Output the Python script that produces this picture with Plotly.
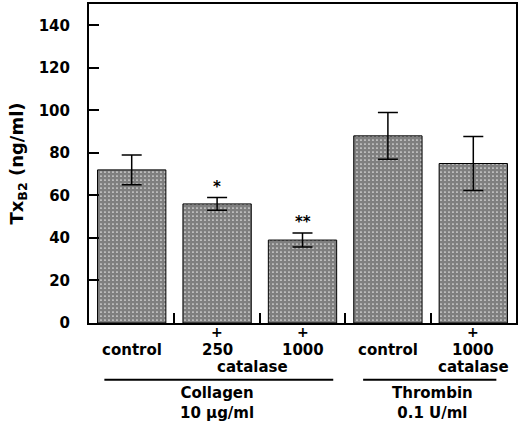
import plotly.graph_objects as go

# bar values (TxB2, ng/ml)
groups = ["control", "250", "1000", "control", "1000"]
means = [72, 56, 39, 88, 75]
errs = [7, 3, 3.3, 11, 12.7]
stars = ["", "*", "**", "", ""]
plus_marks = ["", "+", "+", "", "+"]
ytick_vals = [0, 20, 40, 60, 80, 100, 120, 140]

FONT = "DejaVu Sans"
xs = list(range(len(groups)))

fig = go.Figure()
fig.add_trace(go.Bar(
    x=xs, y=means, width=0.8,
    marker=dict(color="white", line=dict(color="black", width=1),
                pattern=dict(shape=".", fgcolor="black", bgcolor="white",
                             size=4, solidity=0.82)),
    error_y=dict(type="data", array=errs, visible=True,
                 color="black", thickness=1.5, width=10),
))

ann = []
for i in xs:
    if plus_marks[i]:
        ann.append(dict(x=i, y=-0.028, xref="x", yref="paper", text=plus_marks[i],
                        showarrow=False, yanchor="middle", font=dict(size=14)))
    ann.append(dict(x=i, y=-0.084, xref="x", yref="paper", text=groups[i],
                    showarrow=False, yanchor="middle"))
    if stars[i]:
        ann.append(dict(x=i, y=means[i] + errs[i] + 5, xref="x", yref="y",
                        text=stars[i], showarrow=False))
ann.append(dict(x=1.42, y=-0.137, xref="x", yref="paper", text="catalase",
                showarrow=False, yanchor="middle"))
ann.append(dict(x=4, y=-0.137, xref="x", yref="paper", text="catalase",
                showarrow=False, yanchor="middle"))
ann.append(dict(x=1, y=-0.185, xref="x", yref="paper", text="Collagen<br>10 \u03bcg/ml",
                showarrow=False, yanchor="top"))
ann.append(dict(x=3.52, y=-0.185, xref="x", yref="paper", text="Thrombin<br>0.1 U/ml",
                showarrow=False, yanchor="top"))

shapes = [
    dict(type="line", xref="x", yref="paper", x0=-0.32, x1=2.36, y0=-0.178, y1=-0.178,
         line=dict(color="black", width=2)),
    dict(type="line", xref="x", yref="paper", x0=2.71, x1=4.27, y0=-0.178, y1=-0.178,
         line=dict(color="black", width=2)),
]

fig.update_layout(
    width=520, height=427,
    margin=dict(l=89, r=3, t=2, b=104),
    paper_bgcolor="white", plot_bgcolor="white",
    font=dict(family=FONT, size=15, color="black", weight="bold"),
    showlegend=False,
    annotations=ann, shapes=shapes,
    xaxis=dict(range=[-0.5, 4.5], tickvals=[0.5, 1.5, 2.5, 3.5], showticklabels=False,
               ticks="inside", ticklen=10, tickwidth=1.5, tickcolor="black",
               showline=True, linecolor="black", linewidth=2, mirror=True,
               showgrid=False, zeroline=False),
    yaxis=dict(range=[0, 150], tickvals=ytick_vals,
               ticks="inside", ticklen=10, tickwidth=2, tickcolor="black",
               ticklabelstandoff=14,
               showline=True, linecolor="black", linewidth=2, mirror=True,
               showgrid=False, zeroline=False,
               title=dict(text="Tx<sub>B2</sub> (ng/ml)", standoff=10)),
)

fig.write_html("out.html", config={"displayModeBar": False},
               post_script="document.body.style.margin='0';")
